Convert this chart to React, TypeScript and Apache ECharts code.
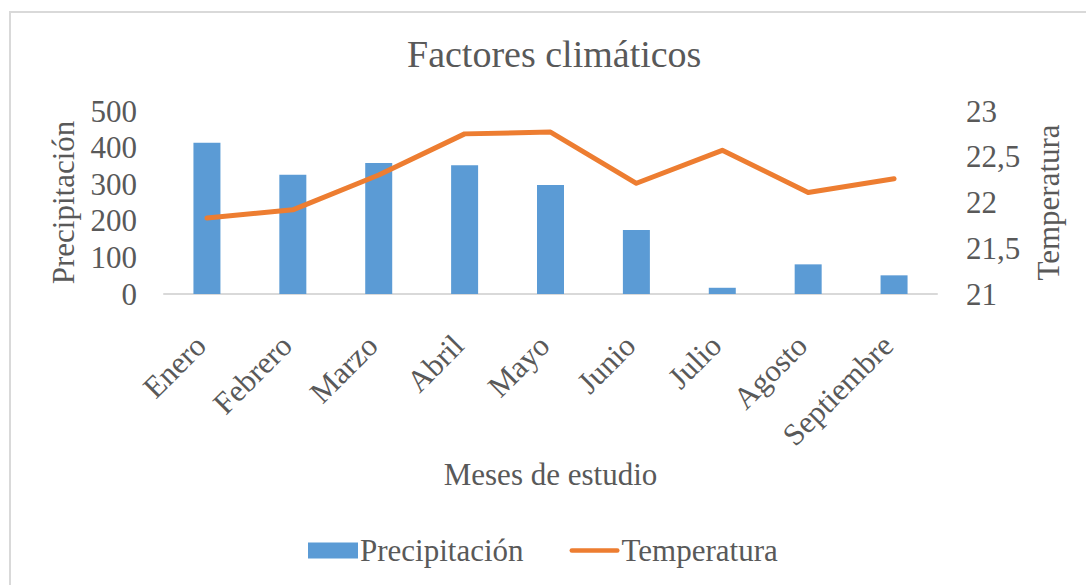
import React, { useEffect, useRef } from "react";
import * as echarts from "echarts";

const months = ["Enero", "Febrero", "Marzo", "Abril", "Mayo", "Junio", "Julio", "Agosto", "Septiembre"];
const precipitacion = [413, 326, 358, 352, 298, 175, 17, 81, 51];
const temperatura = [21.83, 21.92, 22.3, 22.75, 22.77, 22.21, 22.57, 22.11, 22.26];
const leftTicks = { min: 0, max: 500, interval: 100 };
const rightTicks = { min: 21, max: 23, interval: 0.5 };

const FONT = '"Liberation Serif", "Times New Roman", serif';
const TXT = "#595959";

export default function App() {
  const ref = useRef<HTMLDivElement>(null);
  useEffect(() => {
    if (!ref.current) return;
    const chart = echarts.init(ref.current, undefined, { renderer: "svg" });
    chart.setOption({
      animation: false,
      backgroundColor: "#ffffff",
      textStyle: { fontFamily: FONT, color: TXT },
      title: {
        text: "Factores climáticos",
        left: 407,
        top: 35,
        padding: 0,
        textStyle: { fontFamily: FONT, fontSize: 38, fontWeight: "normal", color: TXT },
      },
      graphic: [
        {
          type: "rect",
          shape: { x: 10, y: 12, width: 1200, height: 700 },
          style: { fill: "none", stroke: "#D9D9D9", lineWidth: 2 },
          silent: true,
        },
      ],
      legend: {
        left: 308,
        top: 535,
        itemWidth: 50,
        itemHeight: 16,
        itemGap: 46,
        padding: 0,
        symbolKeepAspect: true,
        textStyle: { fontFamily: FONT, fontSize: 31, color: TXT, padding: [0, 0, 0, -3] },
        data: [
          { name: "Precipitación", icon: "rect" },
          { name: "Temperatura", icon: "path://M2.5,0H52.5A2.5,2.5 0 0 1 52.5,5H2.5A2.5,2.5 0 0 1 2.5,0Z" },
        ],
      },
      grid: { left: 164, right: 149, top: 111, bottom: 291 },
      xAxis: {
        type: "category",
        data: months,
        name: "Meses de estudio",
        nameLocation: "middle",
        nameGap: 165,
        nameTextStyle: { fontFamily: FONT, fontSize: 31, color: TXT },
        axisLine: { lineStyle: { color: "#D9D9D9", width: 2 } },
        axisTick: { show: false },
        axisLabel: {
          rotate: 45,
          margin: 40,
          padding: [0, 9, 0, 0],
          fontFamily: FONT,
          fontSize: 31,
          color: TXT,
          interval: 0,
        },
      },
      yAxis: [
        {
          type: "value",
          min: leftTicks.min,
          max: leftTicks.max,
          interval: leftTicks.interval,
          name: "Precipitación",
          nameLocation: "middle",
          nameRotate: 90,
          nameGap: 85,
          nameTextStyle: { fontFamily: FONT, fontSize: 31, color: TXT },
          axisLine: { show: false },
          axisTick: { show: false },
          splitLine: { show: false },
          axisLabel: { margin: 27, fontFamily: FONT, fontSize: 31, color: TXT },
        },
        {
          type: "value",
          min: rightTicks.min,
          max: rightTicks.max,
          interval: rightTicks.interval,
          name: "Temperatura",
          nameLocation: "middle",
          nameRotate: 90,
          nameGap: 96,
          nameTextStyle: { fontFamily: FONT, fontSize: 31, color: TXT },
          axisLine: { show: false },
          axisTick: { show: false },
          splitLine: { show: false },
          axisLabel: {
            margin: 29,
            fontFamily: FONT,
            fontSize: 31,
            color: TXT,
            formatter: (v: number) => String(v).replace(".", ","),
          },
        },
      ],
      series: [
        {
          name: "Precipitación",
          type: "bar",
          data: precipitacion,
          barWidth: 27,
          itemStyle: { color: "#5B9BD5" },
          yAxisIndex: 0,
        },
        {
          name: "Temperatura",
          type: "line",
          data: temperatura,
          yAxisIndex: 1,
          symbol: "none",
          itemStyle: { color: "#ED7D31" },
          lineStyle: { color: "#ED7D31", width: 5, cap: "round", join: "round" },
        },
      ],
    });
    return () => chart.dispose();
  }, []);
  return (
    <div
      ref={ref}
      style={{ position: "absolute", left: 0, top: 0, width: 1086, height: 585, background: "#fff" }}
    />
  );
}
